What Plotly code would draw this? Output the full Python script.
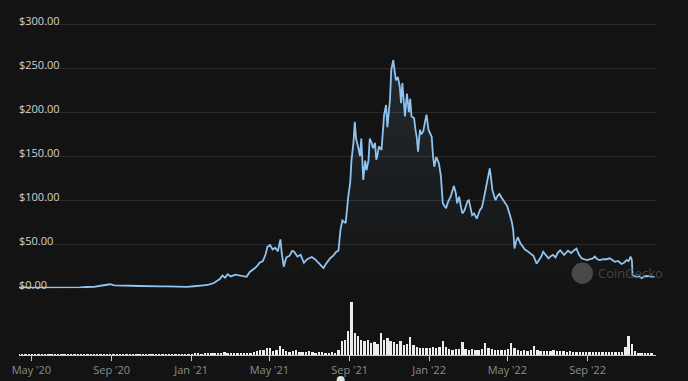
import pandas as pd
import plotly.graph_objects as go

# ---------------- data ----------------
price_dates = [
    "2020-04-12","2020-04-20","2020-05-01","2020-05-15","2020-06-01","2020-06-15","2020-07-01","2020-07-15",
    "2020-07-25","2020-08-05","2020-08-15","2020-08-22","2020-08-30","2020-09-05","2020-09-12","2020-09-20",
    "2020-10-01","2020-10-15","2020-11-01","2020-11-15","2020-11-25","2020-12-10","2020-12-25","2021-01-05",
    "2021-01-12","2021-01-20","2021-01-28","2021-02-05","2021-02-10","2021-02-14","2021-02-18","2021-02-22",
    "2021-02-26","2021-03-03","2021-03-10","2021-03-16","2021-03-22","2021-03-27","2021-04-01","2021-04-04",
    "2021-04-09","2021-04-13","2021-04-16","2021-04-21","2021-04-25","2021-04-28","2021-05-02","2021-05-06",
    "2021-05-10","2021-05-14","2021-05-18","2021-05-20","2021-05-23","2021-05-27","2021-06-01","2021-06-05",
    "2021-06-08","2021-06-13","2021-06-18","2021-06-23","2021-06-28","2021-07-05","2021-07-10","2021-07-15",
    "2021-07-20","2021-07-23","2021-07-27","2021-08-02","2021-08-07","2021-08-11","2021-08-15","2021-08-18",
    "2021-08-21","2021-08-26","2021-08-30","2021-09-02","2021-09-04","2021-09-07","2021-09-09","2021-09-11",
    "2021-09-14","2021-09-17","2021-09-19","2021-09-22","2021-09-25","2021-09-27","2021-09-30","2021-10-02",
    "2021-10-05","2021-10-07","2021-10-10","2021-10-12","2021-10-14","2021-10-16","2021-10-20","2021-10-22",
    "2021-10-24","2021-10-27","2021-10-29","2021-11-02","2021-11-04","2021-11-07","2021-11-09","2021-11-11",
    "2021-11-14","2021-11-17","2021-11-19","2021-11-21","2021-11-25","2021-11-28","2021-12-01","2021-12-03",
    "2021-12-05","2021-12-09","2021-12-11","2021-12-13","2021-12-15","2021-12-18","2021-12-20","2021-12-23",
    "2021-12-26","2021-12-28","2021-12-31","2022-01-03","2022-01-05","2022-01-07","2022-01-09","2022-01-12",
    "2022-01-16","2022-01-19","2022-01-22","2022-01-24","2022-01-27","2022-01-30","2022-02-03","2022-02-08",
    "2022-02-11","2022-02-13","2022-02-16","2022-02-19","2022-02-21","2022-02-24","2022-02-26","2022-03-01",
    "2022-03-03","2022-03-06","2022-03-08","2022-03-11","2022-03-15","2022-03-20","2022-03-23","2022-03-26",
    "2022-03-30","2022-04-02","2022-04-04","2022-04-06","2022-04-08","2022-04-11","2022-04-13","2022-04-16",
    "2022-04-19","2022-04-22","2022-04-26","2022-04-29","2022-05-01","2022-05-05","2022-05-08","2022-05-10",
    "2022-05-12","2022-05-14","2022-05-17","2022-05-21","2022-05-25","2022-05-28","2022-06-01","2022-06-05",
    "2022-06-10","2022-06-15","2022-06-19","2022-06-22","2022-06-25","2022-06-29","2022-07-03","2022-07-06",
    "2022-07-10","2022-07-14","2022-07-17","2022-07-21","2022-07-24","2022-07-27","2022-08-02","2022-08-05",
    "2022-08-07","2022-08-11","2022-08-15","2022-08-19","2022-08-23","2022-08-27","2022-08-31","2022-09-05",
    "2022-09-09","2022-09-12","2022-09-16","2022-09-20","2022-09-25","2022-09-30","2022-10-05","2022-10-09",
    "2022-10-13","2022-10-18","2022-10-23","2022-10-27","2022-10-31","2022-11-03","2022-11-06","2022-11-08",
    "2022-11-09","2022-11-12","2022-11-15","2022-11-19","2022-11-23","2022-11-27","2022-12-01","2022-12-05",
    "2022-12-09","2022-12-13",
]
price_values = [
    0.95,0.66,0.63,0.66,0.62,0.78,0.72,1.10,
    1.45,1.60,2.90,3.60,4.60,3.30,3.40,2.80,
    2.90,2.60,1.90,2.10,2.10,1.60,1.55,2.30,
    3.20,3.40,4.10,6.00,8.50,10.5,14.5,12.0,
    16.0,13.5,15.5,14.5,13.5,13.0,18.5,20.0,
    23.0,26.0,29.0,31.0,38.0,47.0,49.0,44.0,
    46.0,42.0,55.6,40.0,24.5,35.0,37.0,42.5,
    41.5,36.0,38.0,29.0,33.0,35.5,33.0,29.0,
    25.0,23.0,28.0,34.0,37.0,41.0,43.0,66.0,
    77.0,74.0,104,120,146,165,189,170,
    161,150,170,123,145,134,145,170,
    165,159,165,146,152,161,157,175,
    197,208,183,214,248,259,244,236,
    240,229,210,233,195,221,200,215,
    195,193,180,172,155,180,175,178,
    190,197,180,176,172,150,138,149,
    142,128,96.5,94,91,98,104,116,
    108,96.5,104,92,85,88,93,99,
    100,88,83,85,79,89,92,102,
    117,128,136,125,112,104,100,105,
    107,103,98,95,93,83,75,66,
    45,52,58,51,47,44,42,40,
    37,28,33,36,41.5,37,34,36,
    38,35,40,43,41,38,42.7,41,
    40,43,45,38,34,33,32,33,
    34,36,33,32,33,33,34,32,
    30,31,27.6,29,32,31,36,32,
    15,14,13,13.5,11.4,13.6,14,13.5,
    13.2,13,
]

# volume (billions USD), one value every 5 days from vol_start
vol_start = "2020-04-12"
vol_values = [
    # Apr 2020 - Dec 2020
    0.05,0.04,0.04,0.03,0.04,0.03,0.04,0.03,0.04,0.05,0.04,0.06,0.05,0.06,0.07,0.05,
    0.06,0.08,0.09,0.10,0.12,0.10,0.14,0.12,0.15,0.18,0.20,0.16,0.12,0.10,0.12,0.10,
    0.09,0.10,0.08,0.09,0.08,0.10,0.09,0.08,0.09,0.10,0.08,0.09,0.10,0.09,0.08,0.10,
    0.09,0.08,0.10,0.12,0.14,
    # Jan - Mar 2021
    0.25,0.30,0.35,0.28,0.40,0.35,0.30,0.45,0.50,0.70,1.00,0.50,0.35,0.45,0.40,0.35,
    0.50,0.40,
    # Apr - May 2021
    0.60,0.80,1.10,1.40,1.50,2.10,2.00,1.20,1.50,2.70,1.80,1.20,
    # Jun - Aug 2021
    0.90,1.10,1.50,1.00,0.80,0.90,1.20,0.80,0.70,0.90,0.80,0.70,0.60,0.80,0.70,1.50,
    # late Aug 2021 - Jan 2022
    4.20,4.50,7.00,15.6,6.50,5.50,4.50,4.00,4.50,3.50,3.80,3.20,6.60,4.50,5.00,4.20,
    3.80,3.20,4.00,3.00,3.20,5.40,3.00,2.40,2.20,2.00,2.00,2.20,2.40,2.00,2.40,4.10,
    # Feb - Jun 2022
    2.50,1.80,1.60,1.90,1.70,3.80,1.80,1.50,1.70,1.60,1.50,1.70,3.60,2.20,1.70,1.40,
    1.50,1.40,1.60,1.90,3.60,2.00,1.50,1.30,1.40,1.20,1.50,2.70,
    # Jul - Dec 2022
    1.60,1.30,1.20,1.30,1.20,1.40,1.20,1.10,1.30,1.00,1.20,1.00,0.90,1.00,0.90,0.80,
    1.00,0.90,0.80,0.90,0.80,0.90,0.80,0.90,1.00,0.80,1.00,2.30,5.60,3.30,1.20,0.60,
    0.50,0.40,0.45,0.40,
]

tick_dates = ["2020-05-01","2020-09-01","2021-01-01","2021-05-01","2021-09-01","2022-01-01","2022-05-01","2022-09-01"]
tick_text = ["May '20","Sep '20","Jan '21","May '21","Sep '21","Jan '22","May '22","Sep '22"]
price_ticks = [0, 50, 100, 150, 200, 250, 300]
price_tick_text = ["$0.00","$50.00","$100.00","$150.00","$200.00","$250.00","$300.00"]

# ---------------- figure ----------------
BG = "#131313"
LINE = "#8fc3f0"

vol_dates = pd.date_range(vol_start, periods=len(vol_values), freq="5D")

fig = go.Figure()
fig.add_trace(go.Scatter(
    x=pd.to_datetime(price_dates), y=price_values, mode="lines",
    line=dict(color=LINE, width=1.8),
    fill="tozeroy",
    fillgradient=dict(type="vertical", start=0, stop=260,
                      colorscale=[[0, "rgba(143,195,240,0.0)"], [1, "rgba(143,195,240,0.13)"]]),
    xaxis="x", yaxis="y", hoverinfo="skip", showlegend=False,
))
fig.add_trace(go.Bar(
    x=vol_dates, y=vol_values, width=3.6 * 86400000,
    marker=dict(color="#ececec", line=dict(width=0)),
    xaxis="x", yaxis="y2", hoverinfo="skip", showlegend=False,
))

W, H = 688, 381
ML, MR, MT, MB = 19, 32, 0, 26
plot_h = H - MT - MB
y0_px = 288.3  # pixel row of $0
price_dom0 = (H - MB - y0_px) / plot_h
px_per_usd = 0.881
price_top = (y0_px - MT) / px_per_usd
vol_dom1 = 53 / plot_h

fig.update_layout(
    width=W, height=H,
    margin=dict(l=ML, r=MR, t=MT, b=MB, pad=0, autoexpand=False),
    paper_bgcolor=BG, plot_bgcolor=BG,
    font=dict(family="Open Sans, Noto Sans, sans-serif", size=11, color="#cfcfcf"),
    bargap=0,
    xaxis=dict(
        type="date", range=["2020-04-12", "2022-12-15"],
        anchor="y2", showgrid=False, zeroline=False,
        showline=True, linecolor="#c9c9c9", linewidth=1,
        ticks="outside", ticklen=5, tickcolor="#c9c9c9", tickwidth=1,
        tickvals=pd.to_datetime(tick_dates), ticktext=tick_text,
        tickfont=dict(color="#8c8c8c", size=11),
        ticklabeloverflow="allow",
    ),
    yaxis=dict(
        domain=[price_dom0, 1], range=[0, price_top],
        showgrid=True, gridcolor="#2b2b2b", gridwidth=1, zeroline=False,
        tickvals=price_ticks, ticktext=price_tick_text,
        ticklabelposition="inside top", ticks="",
        ticklabelshift=5, ticklabelstandoff=-3,
        ticklabeloverflow="allow",
        tickfont=dict(color="#d2d2d2", size=11),
        showline=False,
    ),
    yaxis2=dict(
        domain=[0, vol_dom1], range=[0, 15.6],
        showgrid=False, zeroline=False, showticklabels=False, ticks="",
    ),
)

# CoinGecko watermark (below traces)
fig.add_shape(type="circle", xref="paper", yref="paper",
              x0=(582.3 - 10.7 - ML) / (W - ML - MR), x1=(582.3 + 10.7 - ML) / (W - ML - MR),
              y0=(H - MB - 273.3 - 10.7) / plot_h, y1=(H - MB - 273.3 + 10.7) / plot_h,
              fillcolor="#474747", line=dict(width=0), layer="below")
fig.add_annotation(text="CoinGecko", xref="paper", yref="paper",
                   x=(596 - ML) / (W - ML - MR), y=(H - MB - 273.3) / plot_h,
                   xanchor="left", yanchor="middle", showarrow=False,
                   font=dict(color="rgba(80,80,80,0.85)", size=13, family="Open Sans, sans-serif"))
# navigator handle peeking at the bottom edge
fig.add_shape(type="circle", xref="paper", yref="paper",
              x0=(340.7 - 4 - ML) / (W - ML - MR), x1=(340.7 + 4 - ML) / (W - ML - MR),
              y0=(H - MB - 384) / plot_h, y1=(H - MB - 376) / plot_h,
              fillcolor="#e0e0e0", line=dict(width=0))

fig.write_html("out.html", config={"displayModeBar": False},
               post_script="document.body.style.margin='0';document.body.style.background='#131313';")
